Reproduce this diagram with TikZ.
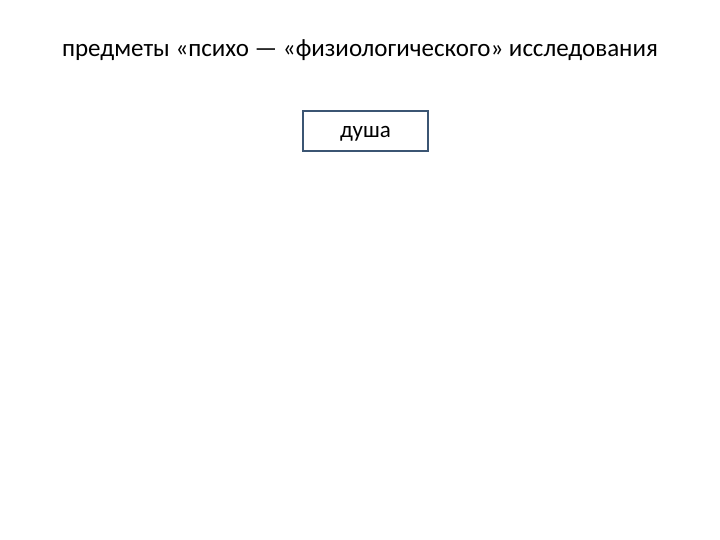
\documentclass[tikz,border=0pt]{standalone}
\usepackage{fontspec}
\setmainfont{Carlito}
\definecolor{boxline}{HTML}{3B5573}
\tikzset{
  titletext/.style={inner sep=0pt, font=\fontsize{25}{30}\selectfont},
  soulbox/.style={draw=boxline, line width=1.5pt, minimum width=125pt, minimum height=40pt, inner sep=0pt, text height=16pt, text depth=2.5pt, font=\fontsize{23}{28}\selectfont}
}
\begin{document}
\begin{tikzpicture}[x=1pt,y=-1pt]
\useasboundingbox (0,0) rectangle (720,540);
\node[titletext] (title) at (360,50) {предметы «психо — «физиологического» исследования};
\node[soulbox] (soul) at (365.5,131) {душа};
\end{tikzpicture}
\end{document}
